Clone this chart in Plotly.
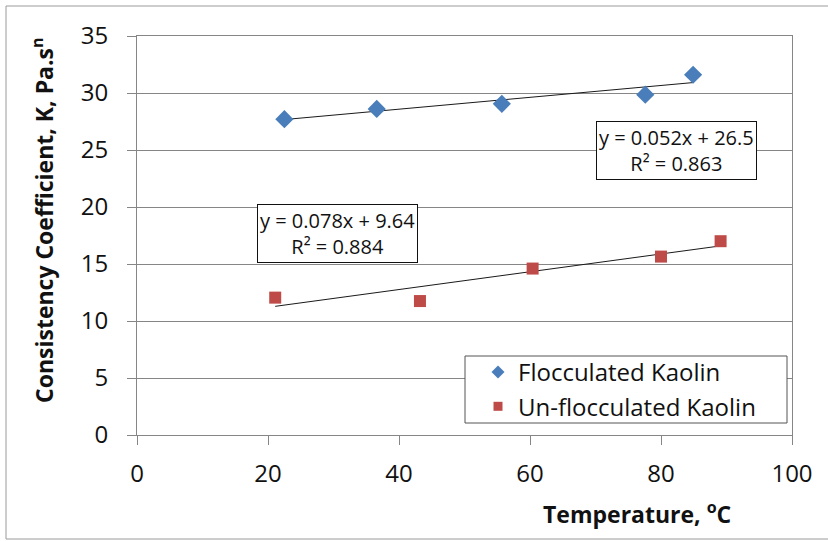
import plotly.graph_objects as go

# Data
floc_temp = [22.5, 36.6, 55.7, 77.6, 84.9]
floc_k = [27.7, 28.6, 29.05, 29.85, 31.6]
unfloc_temp = [21.1, 43.2, 60.4, 80.0, 89.1]
unfloc_k = [12.05, 11.75, 14.6, 15.65, 17.0]

floc_fit = {"slope": 0.052, "intercept": 26.5, "r2": 0.863}
unfloc_fit = {"slope": 0.078, "intercept": 9.64, "r2": 0.884}

x_ticks = [0, 20, 40, 60, 80, 100]
y_ticks = [0, 5, 10, 15, 20, 25, 30, 35]

FONT = "Open Sans"
W, H = 828, 541
L, R, T, B = 137, 792, 36, 435  # plot area pixels
BLUE, RED = "#4A7EBB", "#BE4B48"


def px(xp):
    return (xp - L) / (R - L)


def py(yp):
    return (B - yp) / (B - T)


def fit_line(xs, fit):
    x0, x1 = min(xs), max(xs)
    return [x0, x1], [fit["slope"] * x0 + fit["intercept"], fit["slope"] * x1 + fit["intercept"]]


fig = go.Figure()

fx, fy = fit_line(floc_temp, floc_fit)
ux, uy = fit_line(unfloc_temp, unfloc_fit)

fig.add_trace(go.Scatter(x=fx, y=fy, mode="lines", line=dict(color="#1a1a1a", width=1),
                         showlegend=False, hoverinfo="skip"))
fig.add_trace(go.Scatter(x=ux, y=uy, mode="lines", line=dict(color="#1a1a1a", width=1),
                         showlegend=False, hoverinfo="skip"))

fig.add_trace(go.Scatter(x=floc_temp, y=floc_k, mode="markers", name="Flocculated Kaolin",
                         marker=dict(symbol="diamond", size=14, color=BLUE), showlegend=False))
fig.add_trace(go.Scatter(x=unfloc_temp, y=unfloc_k, mode="markers", name="Un-flocculated Kaolin",
                         marker=dict(symbol="square", size=12, color=RED), showlegend=False))

# legend entries with smaller symbols (as in the reference legend)
fig.add_trace(go.Scatter(x=[None], y=[None], mode="markers", name="Flocculated Kaolin",
                         marker=dict(symbol="diamond", size=10, color=BLUE)))
fig.add_trace(go.Scatter(x=[None], y=[None], mode="markers", name="Un-flocculated Kaolin",
                         marker=dict(symbol="square", size=9, color=RED)))

axis_common = dict(
    showline=True, linecolor="#868686", linewidth=1, mirror=True,
    gridcolor="#868686", gridwidth=1,
    ticks="outside", ticklen=9, tickcolor="#868686", tickwidth=1,
    tickfont=dict(family=FONT, size=24, color="#111111"),
    zeroline=False,
)

fig.update_xaxes(range=[0, 100], tickvals=x_ticks, showgrid=False,
                 ticklabelstandoff=8, **axis_common)
fig.update_yaxes(range=[0, 35], tickvals=y_ticks, showgrid=True,
                 ticklabelstandoff=14, **axis_common)


def eq_text(fit):
    return f"y = {fit['slope']:.3f}x + {fit['intercept']:g}<br>R² = {fit['r2']:.3f}"


annos = [
    dict(x=px(676), y=py(150), text=eq_text(floc_fit)),
    dict(x=px(337), y=py(233.5), text=eq_text(unfloc_fit)),
]
for a in annos:
    fig.add_annotation(xref="paper", yref="paper", x=a["x"], y=a["y"], text=a["text"],
                       showarrow=False, align="center",
                       font=dict(family=FONT, size=20, color="#111111"),
                       bordercolor="#111111", borderwidth=1, borderpad=2, bgcolor="white",
                       xanchor="center", yanchor="middle")

fig.add_annotation(xref="paper", yref="paper", x=px(637), y=py(513),
                   text="<b>Temperature, <sup>o</sup>C</b>", showarrow=False,
                   font=dict(family=FONT, size=23, color="#111111"),
                   xanchor="center", yanchor="middle")
fig.add_annotation(xref="paper", yref="paper", x=px(43), y=py(220),
                   text="<b>Consistency Coefficient, K, Pa.s<sup>n</sup></b>", showarrow=False,
                   textangle=-90,
                   font=dict(family=FONT, size=23, color="#111111"),
                   xanchor="center", yanchor="middle")

# outer chart frame
fig.add_shape(type="rect", xref="paper", yref="paper",
              x0=px(6), x1=px(835), y0=py(6), y1=py(539),
              line=dict(color="#9a9a9a", width=1), layer="below")
# legend box
fig.add_shape(type="rect", xref="paper", yref="paper",
              x0=px(465), x1=px(787), y0=py(356), y1=py(423),
              line=dict(color="#555555", width=1), fillcolor="white", layer="above")

fig.update_layout(
    width=W, height=H,
    margin=dict(l=L, r=W - R, t=T, b=H - B),
    paper_bgcolor="white", plot_bgcolor="white",
    font=dict(family=FONT, color="#111111"),
    legend=dict(x=px(478), y=py(350), xanchor="left", yanchor="top",
                borderwidth=0, bgcolor="rgba(0,0,0,0)",
                font=dict(family=FONT, size=24, color="#111111"),
                itemwidth=30, tracegroupgap=0),
)

fig.write_html("out.html")
